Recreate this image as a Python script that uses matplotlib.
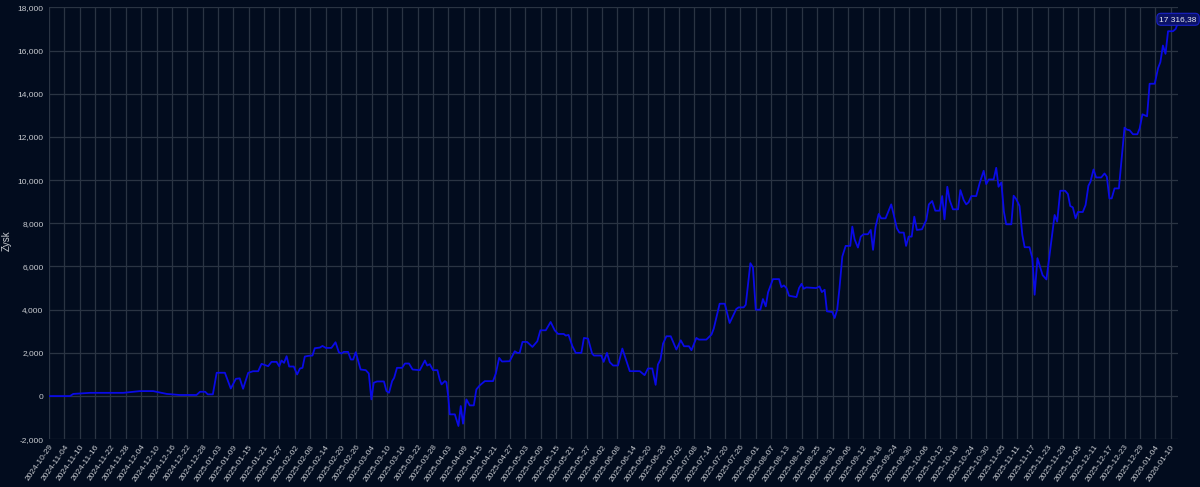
import numpy as np
import pandas as pd
import matplotlib
matplotlib.use('Agg')
import matplotlib.pyplot as plt
import matplotlib.dates as mdates
from matplotlib.ticker import FuncFormatter

# days since the first point, and cumulative profit
start = pd.Timestamp('2024-10-29')
days = [0, 8.2, 9.5, 16, 29, 35.5, 40.7, 46, 51, 57.6, 59, 61, 62, 64, 65.5, 68.7, 71, 73,
        74.5, 75.8, 77.8, 79.7, 81.7, 83, 85.6, 86.9, 88.9, 89.9, 90.8, 91.8, 92.8, 93.8, 95.6,
        96.9, 98, 99, 99.9, 101.2, 102.9, 103.8, 105.8, 106.8, 108.1, 110.3, 111.9, 113.2,
        114.2, 115.1, 116.8, 117.9, 118.8, 119.8, 121.7, 123.7, 124.9, 125.9, 126.8, 128.1,
        130.8, 131.8, 132.8, 134, 134.8, 135.9, 137.9, 139, 140.6, 142, 144.8, 146.8, 147.7,
        148.7, 150, 151.7, 152.6, 153.3, 154.6, 155.2, 155.9, 156.5, 158.5, 159.9, 160.8,
        161.7, 163, 164.3, 165.9, 166.9, 168.2, 170.2, 173.4, 174.5, 175.8, 176.9, 179.9,
        181.9, 182.9, 183.8, 184.9, 186.7, 188.8, 190.7, 191.9, 194, 195.9, 197.5, 198.8,
        201, 201.8, 202.9, 204.4, 205.7, 207.9, 208.9, 210.5, 212.1, 212.8, 215.7, 216.6,
        217.9, 219, 220.3, 222.2, 223.9, 226.8, 230.7, 232.6, 233.9, 235.6, 236.9, 237.8,
        238.8, 239.8, 241.1, 242.8, 245, 246.7, 248, 249.9, 250.9, 252.8, 253.8, 256.7,
        258.7, 259.6, 261.9, 263.9, 265.8, 268.4, 269.3, 271.3, 272.1, 273.9, 274.9, 276,
        277.8, 278.8, 279.9, 280.8, 282.7, 285.1, 286, 287, 288, 289, 291.9, 292.9, 293.9,
        294.7, 295.7, 299.6, 300.9, 301.8, 302.9, 303.8, 305.9, 306.8, 307.8, 308.7, 309.8,
        311.1, 312.9, 313.7, 314.6, 315.9, 317, 318.1, 319.8, 320.9, 321.8, 322.8, 324, 325,
        326.7, 328.9, 329.9, 331.1, 332.1, 333.8, 334.7, 335.7, 336.9, 337.9, 338.9, 340.9,
        342.6, 343.6, 344.9, 346.1, 347.8, 348.8, 349.7, 350.8, 351.7, 353, 355, 355.9, 357.2,
        358.2, 359.1, 360.2, 362.1, 363.4, 365, 366, 367, 368.9, 369.9, 370.8, 371.9, 372.9,
        373.8, 375.8, 376.7, 377.7, 379, 380.1, 381, 382.9, 384, 384.9, 386, 386.8, 388,
        389.5, 390.7, 392.7, 393.7, 394.9, 396.8, 397.9, 398.8, 399.8, 400.9, 401.8, 403.7,
        404.8, 405.9, 406.7, 407.9, 408.9, 410.9, 412.2, 413.1, 414.1, 415, 416.1, 417.8, 420,
        420.9, 422, 423.3, 425, 425.9, 427, 428.8, 429.8, 431.8, 433.1, 434, 435, 436, 437,
        438.9, 440, 440.9]
profit = [0, 0, 100, 150, 150, 230, 230, 100, 50, 50, 200, 200, 80, 80, 1080, 1080, 350, 800,
          820, 338, 1077, 1150, 1150, 1492, 1384, 1584, 1584, 1384, 1646, 1538, 1846, 1369, 1369,
          1000, 1277, 1308, 1830, 1861, 1877, 2215, 2246, 2323, 2230, 2230, 2492, 2030,
          1969, 2046, 2046, 1692, 1692, 2030, 1230, 1200, 1046, -154, 615, 677,
          677, 231, 154, 692, 846, 1308, 1308, 1507, 1507, 1230, 1200, 1646, 1415,
          1477, 1200, 1200, 760, 540, 692, 646, 0, -846, -846, -1385, -461,
          -1277, -154, -431, -431, 308, 492, 692, 692, 1046, 1769, 1600, 1615,
          2076, 2000, 2000, 2507, 2507, 2276, 2538, 3046, 3046, 3430, 3046, 2877,
          2877, 2800, 2830, 2307, 2000, 2000, 2692, 2661, 1969, 1877, 1877, 1584,
          2000, 1569, 1415, 1415, 2200, 1154, 1154, 969, 1277, 1277, 520, 1461,
          1692, 2430, 2769, 2769, 2153, 2584, 2307, 2307, 2123, 2692, 2615, 2615,
          2846, 3123, 4276, 4276, 3384, 4030, 4107, 4107, 4230, 6153, 5953, 4000,
          4000, 4492, 4153, 4800, 5415, 5415, 5046, 5123, 5000, 4646, 4584, 5000, 5200,
          4969, 5030, 5000, 5077, 4815, 4923, 3923, 3892, 3615, 4000, 5000, 6461,
          6953, 6953, 7846, 7261, 6876, 7384, 7492, 7492, 7692, 6769, 7846, 8430, 8230,
          8230, 8876, 8384, 7769, 7569, 7569, 6953, 7384, 7384, 8307, 7692, 7722,
          8153, 8876, 9030, 8584, 8584, 9261, 8184, 9692, 9077, 8646, 8646, 9538, 9077,
          8876, 8969, 9261, 9261, 9846, 10430, 9815, 10030, 10030, 10569, 9692, 9892, 8538,
          7953, 7953, 9277, 9123, 8800, 7461, 6892, 6892, 6384, 4692, 6384, 6077, 5600,
          5400, 6500, 8384, 8076, 9507, 9507, 9353, 8800, 8738, 8230, 8522, 8522,
          8846, 9738, 9922, 10492, 10122, 10122, 10307, 10153, 9153, 9153, 9615, 9615, 12430,
          12338, 12307, 12122, 12122, 12384, 13046, 12953, 14461, 14461, 15184, 15461, 16230, 15845, 16892,
          16892, 17000, 17316.38]

dates = [start + pd.Timedelta(days=d) for d in days]
tick_dates = pd.date_range('2024-10-29', '2026-01-10', freq='6D')

bg = '#020c1e'
grid = '#2a3443'
txt = '#c9ccd1'

plt.rcParams['font.family'] = ['Liberation Sans', 'DejaVu Sans']

fig = plt.figure(figsize=(12, 4.87), dpi=100, facecolor=bg)
ax = fig.add_axes([0.0408, 0.098, 0.9409, 0.887], facecolor=bg)

ax.plot(dates, profit, color='#0a0ae6', lw=1.3, zorder=3)

ax.set_xlim(dates[0], dates[-1])
ax.set_ylim(-2000, 18000)
ax.set_yticks(range(-2000, 18001, 2000))
ax.yaxis.set_major_formatter(FuncFormatter(lambda v, p: f'{int(v):,}'))
ax.set_xticks(tick_dates)
ax.xaxis.set_major_formatter(mdates.DateFormatter('%Y-%m-%d'))
plt.setp(ax.get_xticklabels(), rotation=55, ha='right', rotation_mode='anchor')

ax.grid(True, color=grid, lw=0.9)
ax.set_axisbelow(True)
for s in ax.spines.values():
    s.set_visible(False)
ax.tick_params(colors=txt, labelsize=6, length=0, pad=4)
ax.tick_params(axis='x', pad=3)
ax.set_ylabel('Zysk', color=txt, fontsize=7)
ax.yaxis.set_label_coords(-0.033, 0.46)

ax.annotate('17 316,38', (dates[-1], profit[-1]), xytext=(0, 2), textcoords='offset points',
            ha='center', va='center', color='#e6e8ee', fontsize=6, annotation_clip=False,
            bbox=dict(boxstyle='round,pad=0.3,rounding_size=0.5', fc='#0b1266', ec='#1a22c8', lw=0.8),
            zorder=5)

fig.savefig('out.png', dpi=100, facecolor=bg)
